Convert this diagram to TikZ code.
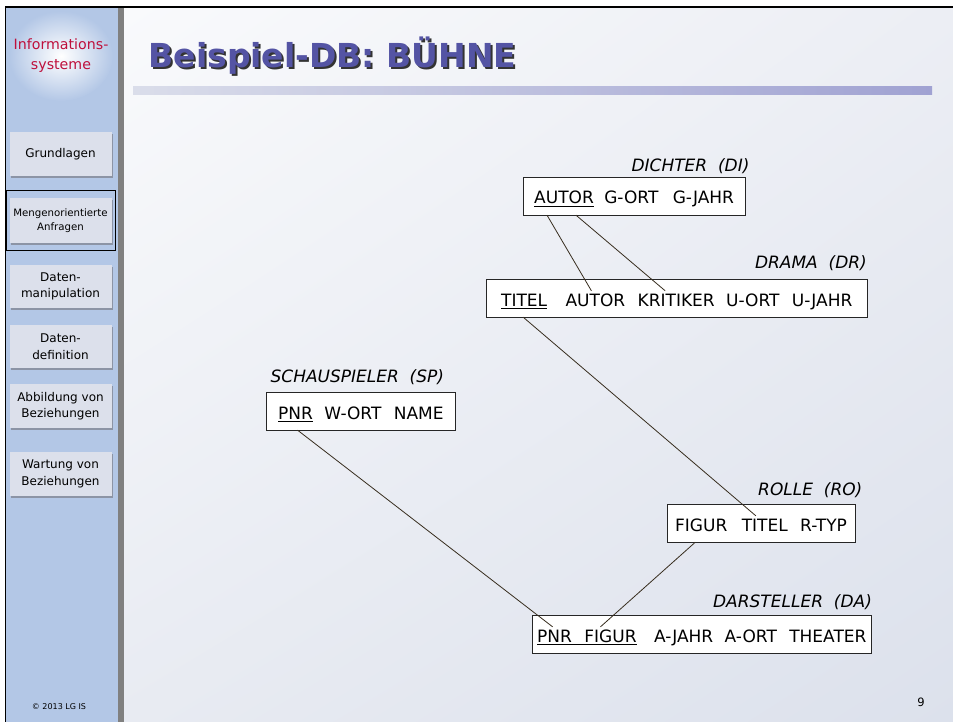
\documentclass[tikz,border=0pt]{standalone}
\usepackage{fontspec}
\setmainfont{DejaVu Sans}
\usetikzlibrary{positioning,fit,backgrounds,shadows,shadings}

\definecolor{sidebar}{RGB}{179,199,230}
\definecolor{btnfill}{RGB}{220,224,235}
\definecolor{btnshade}{RGB}{140,148,165}
\definecolor{infored}{RGB}{190,16,60}
\definecolor{titleblue}{RGB}{84,84,164}
\definecolor{linkcol}{RGB}{55,45,30}
\definecolor{bgul}{RGB}{249,250,252}
\definecolor{bgur}{RGB}{236,238,244}
\definecolor{bgll}{RGB}{232,235,242}
\definecolor{bglr}{RGB}{220,225,236}
\definecolor{barl}{RGB}{218,221,234}
\definecolor{barr}{RGB}{160,162,210}

\pgfdeclarelayer{page}
\pgfsetlayers{page,background,main}

\tikzset{
    attr/.style={
        inner sep=0pt,
        text height=15pt,
        text depth=0pt,
        font=\fontsize{17}{20}\selectfont },
    rel/.style={
        draw=black!85,
        fill=white,
        line width=0.9pt,
        inner ysep=11pt },
    relname/.style={
        anchor=base east,
        inner sep=0pt,
        font=\fontsize{17}{20}\selectfont\itshape },
    uline/.style={line width=1.3pt},
    link/.style={draw=linkcol, line width=0.8pt},
    btn/.style={
        fill=btnfill,
        minimum width=102pt,
        minimum height=44pt,
        align=center,
        inner sep=0pt,
        font=\fontsize{12}{16.5}\selectfont,
        drop shadow={shadow xshift=1.5pt, shadow yshift=-2pt,
                     fill=btnshade, opacity=1} }
}

\begin{document}
\begin{tikzpicture}[x=1pt,y=-1pt]
\useasboundingbox (0,0) rectangle (953,722);

% slide background
\begin{pgfonlayer}{page}
\fill[white] (0,0) rectangle (953,722);
\shade[upper left=bgul, upper right=bgur, lower left=bgll, lower right=bglr]
    (124,7) rectangle (953,722);
\fill[sidebar] (5,7) rectangle (118,722);
\fill[black!50] (118,7) rectangle (124,722);
\shade[inner color=white, outer color=sidebar] (61,56) ellipse [x radius=52pt, y radius=45pt];
\draw[line width=1.5pt] (5,7) -- (953,7);
\draw[line width=1.5pt] (5.5,7) -- (5.5,722);
\end{pgfonlayer}

\node[text=infored, align=center, font=\fontsize{14.2}{20}\selectfont] (logo) at (61,56)
    {Informations-\\systeme};

\node[btn] (b_grund) at (60.5,154.5) {Grundlagen};
\node[btn, font=\fontsize{10.2}{14}\selectfont] (b_mengen) at (60.5,220.5)
    {Mengenorientierte\\Anfragen};
\node[btn, minimum height=43pt] (b_manip) at (60.5,286.5) {Daten-\\manipulation};
\node[btn, minimum height=43pt] (b_def) at (60.5,346.5) {Daten-\\definition};
\node[btn] (b_abb) at (60.5,406) {Abbildung von\\Beziehungen};
\node[btn] (b_wart) at (60.5,474) {Wartung von\\Beziehungen};
\draw[line width=1.8pt] (6.5,190.5) rectangle (115.5,250.5);

\node[font=\fontsize{8}{10}\selectfont] (copy) at (59,707) {© 2013 LG IS};
\node[font=\fontsize{11.5}{14}\selectfont] (pagenr) at (921,702) {9};

% title
\node[anchor=base west, text=black!80, font=\fontsize{33}{40}\selectfont\bfseries] (title_s)
    at (147,70) {Beispiel-DB: BÜHNE};
\node[anchor=base west, text=titleblue, font=\fontsize{33}{40}\selectfont\bfseries] (title)
    at (145,68) {Beispiel-DB: BÜHNE};
\shade[left color=barl, right color=barr] (133,87) rectangle (932,95);

% DICHTER
\node[attr, anchor=base west] (di_autor) at (534,204) {AUTOR};
\node[attr, right=10pt of di_autor] (di_gort) {G-ORT};
\node[attr, right=14pt of di_gort] (di_gjahr) {G-JAHR};

% DRAMA
\node[attr, anchor=base west] (dr_titel) at (501,306) {TITEL};
\node[attr, right=18pt of dr_titel] (dr_autor) {AUTOR};
\node[attr, right=12pt of dr_autor] (dr_krit) {KRITIKER};
\node[attr, right=11pt of dr_krit] (dr_uort) {U-ORT};
\node[attr, right=12pt of dr_uort] (dr_ujahr) {U-JAHR};

% SCHAUSPIELER
\node[attr, anchor=base west] (sp_pnr) at (278,419) {PNR};
\node[attr, right=11pt of sp_pnr] (sp_wort) {W-ORT};
\node[attr, right=12pt of sp_wort] (sp_name) {NAME};

% ROLLE
\node[attr, anchor=base west] (ro_figur) at (675,531) {FIGUR};
\node[attr, right=14pt of ro_figur] (ro_titel) {TITEL};
\node[attr, right=12pt of ro_titel] (ro_rtyp) {R-TYP};

% DARSTELLER
\node[attr, anchor=base west] (da_pnr) at (537,642) {PNR};
\node[attr, right=12pt of da_pnr] (da_figur) {FIGUR};
\node[attr, right=17pt of da_figur] (da_ajahr) {A-JAHR};
\node[attr, right=11pt of da_ajahr] (da_aort) {A-ORT};
\node[attr, right=12pt of da_aort] (da_theater) {THEATER};

\begin{pgfonlayer}{background}
\node[rel, inner xsep=11pt, fit=(di_autor)(di_gjahr)] (di) {};
\node[rel, inner xsep=15pt, fit=(dr_titel)(dr_ujahr)] (dr) {};
\node[rel, inner xsep=12pt, fit=(sp_pnr)(sp_name)] (sp) {};
\node[rel, inner xsep=8pt, fit=(ro_figur)(ro_rtyp)] (ro) {};
\node[rel, inner xsep=5pt, fit=(da_pnr)(da_theater)] (da) {};
\end{pgfonlayer}

\node[relname] (di_name) at ([xshift=4pt,yshift=6pt]di.north east) {DICHTER~~(DI)};
\node[relname] (dr_name) at ([xshift=-1pt,yshift=11pt]dr.north east) {DRAMA~~(DR)};
\node[relname] (sp_name_l) at ([xshift=-12pt,yshift=10pt]sp.north east) {SCHAUSPIELER~~(SP)};
\node[relname] (ro_name) at ([xshift=7pt,yshift=9pt]ro.north east) {ROLLE~~(RO)};
\node[relname] (da_name) at ([xshift=0pt,yshift=8pt]da.north east) {DARSTELLER~~(DA)};

% keys
\draw[uline] ([yshift=-2.5pt]di_autor.base west) -- ([yshift=-2.5pt]di_autor.base east);
\draw[uline] ([yshift=-2.5pt]dr_titel.base west) -- ([yshift=-2.5pt]dr_titel.base east);
\draw[uline] ([yshift=-2.5pt]sp_pnr.base west) -- ([yshift=-2.5pt]sp_pnr.base east);
\draw[uline] ([yshift=-2.5pt]da_pnr.base west) -- ([yshift=-2.5pt]da_figur.base east);

% references
\path[link]
([xshift=-17pt,yshift=-11pt]di_autor.south) edge ([xshift=-4pt]dr_autor.north)
([xshift=12pt,yshift=-11pt]di_autor.south) edge ([xshift=-11pt]dr_krit.north)
([xshift=-1pt,yshift=-11pt]dr_titel.south) edge ([xshift=-9pt]ro_titel.north)
([xshift=2pt,yshift=-11pt]sp_pnr.south) edge ([xshift=-2pt]da_pnr.north)
([xshift=-6pt,yshift=-11pt]ro_figur.south) edge ([xshift=-10pt]da_figur.north);

\end{tikzpicture}
\end{document}
